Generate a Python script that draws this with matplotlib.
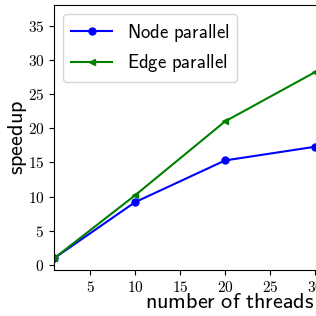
import matplotlib
matplotlib.use('Agg')
import matplotlib.pyplot as plt
from matplotlib.ticker import FuncFormatter

plt.rcParams['mathtext.fontset'] = 'cm'

#Data
threads = [1, 10, 20, 30]
node_speedup = [1.0, 9.2, 15.3, 17.3]
edge_speedup = [1.0, 10.2, 21.0, 28.2]
x_ticks = [5, 10, 15, 20, 25, 30, 35, 40]
y_ticks = [0, 5, 10, 15, 20, 25, 30, 35]

def sans(s):
    #Computer Modern sans through mathtext
    return r'$\mathsf{' + s.replace(' ', r'\ ') + '}$'

fig = plt.figure(figsize=(3.16, 3.16), dpi=100)
#Axes runs past the right edge of the picture, like the cropped original
ax = fig.add_axes([54/316, 46/316, 352/316, 265/316])

ax.plot(threads, node_speedup, color='blue', marker='o', markersize=5,
        linewidth=1.5, label=sans('Node parallel'))
ax.plot(threads, edge_speedup, color='green', marker='<', markersize=5,
        linewidth=1.5, label=sans('Edge parallel'))

ax.set_xlim(1, 40.1)
ax.set_ylim(-0.7, 38)
ax.set_xticks(x_ticks)
ax.set_yticks(y_ticks)
fmt = FuncFormatter(lambda v, pos: r'$%d$' % v)
ax.xaxis.set_major_formatter(fmt)
ax.yaxis.set_major_formatter(fmt)
ax.tick_params(labelsize=11, length=3.5)

ax.set_xlabel(sans('number of threads'), fontsize=16)
ax.set_ylabel(sans('speedup'), fontsize=16)
ax.xaxis.set_label_coords((230 - 54) / 352, -0.083)
ax.yaxis.set_label_coords(-0.072, 0.5)

ax.legend(loc='upper left', fontsize=13.5, handlelength=2.2,
          borderaxespad=0.5, labelspacing=0.45)

fig.savefig('out.png', dpi=100)
